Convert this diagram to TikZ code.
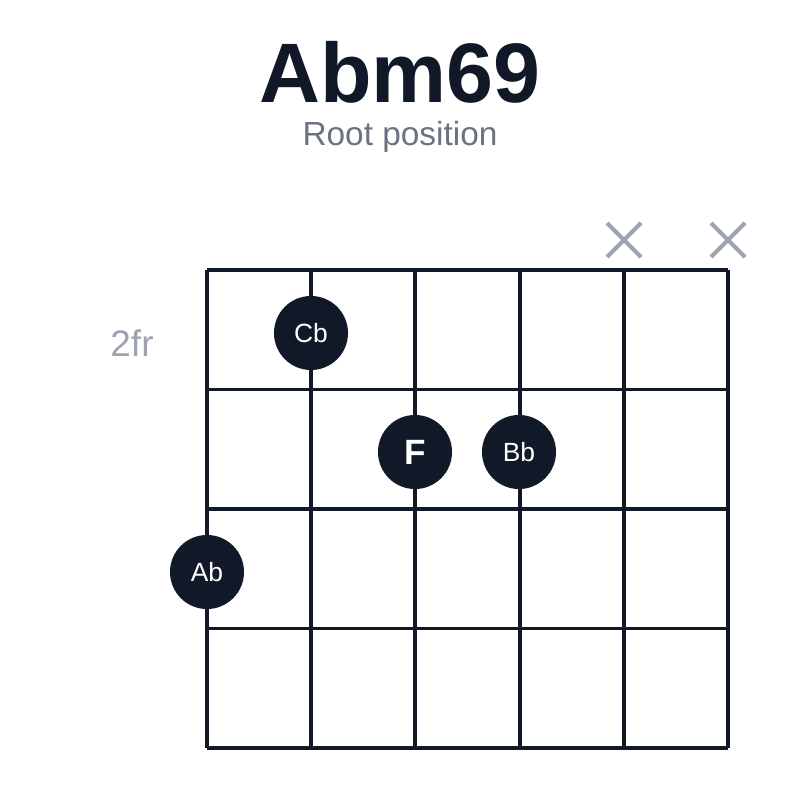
\documentclass[tikz,border=0pt]{standalone}
\usepackage{fontspec}
\setmainfont{Liberation Sans}
\definecolor{ink}{HTML}{111827}
\definecolor{mute}{HTML}{9CA3AF}
\definecolor{sub}{HTML}{6B7280}
\begin{document}
\begin{tikzpicture}[x=0.01cm,y=-0.01cm,
  dot/.style={circle, fill=ink, minimum size=0.74cm, inner sep=0pt, text=white, font=\fontsize{7.5}{8}\selectfont},
  mute/.style={draw=mute, line width=1.2pt}]
\useasboundingbox (0,0) rectangle (800,800);
\node (title) at (400,72) {\fontsize{24}{27}\selectfont\bfseries\color{ink}Abm69};
\node (sub) at (400,137) {\fontsize{9.5}{11}\selectfont\color{sub}Root position};
\node (fr) at (132,343) {\fontsize{10.5}{12}\selectfont\color{mute}2fr};
% strings and frets
\foreach \s in {0,...,5}
  \draw[ink, line width=1.1pt] ({207+104.2*\s},270) -- ({207+104.2*\s},748);
\foreach \f in {0,...,4}
  \draw[ink, line width=1.1pt] (207,{270+119.5*\f}) -- (728,{270+119.5*\f});
% muted strings
\foreach \x in {624,728} {
  \draw[mute] (\x-17,223) -- (\x+17,257);
  \draw[mute] (\x-17,257) -- (\x+17,223);
}
% fingers
\node[dot] (cb) at (311,333) {Cb};
\node[dot, font=\fontsize{10}{11}\selectfont\bfseries] (f) at (415,452) {F};
\node[dot] (bb) at (519,452) {Bb};
\node[dot] (ab) at (207,572) {Ab};
\end{tikzpicture}
\end{document}
